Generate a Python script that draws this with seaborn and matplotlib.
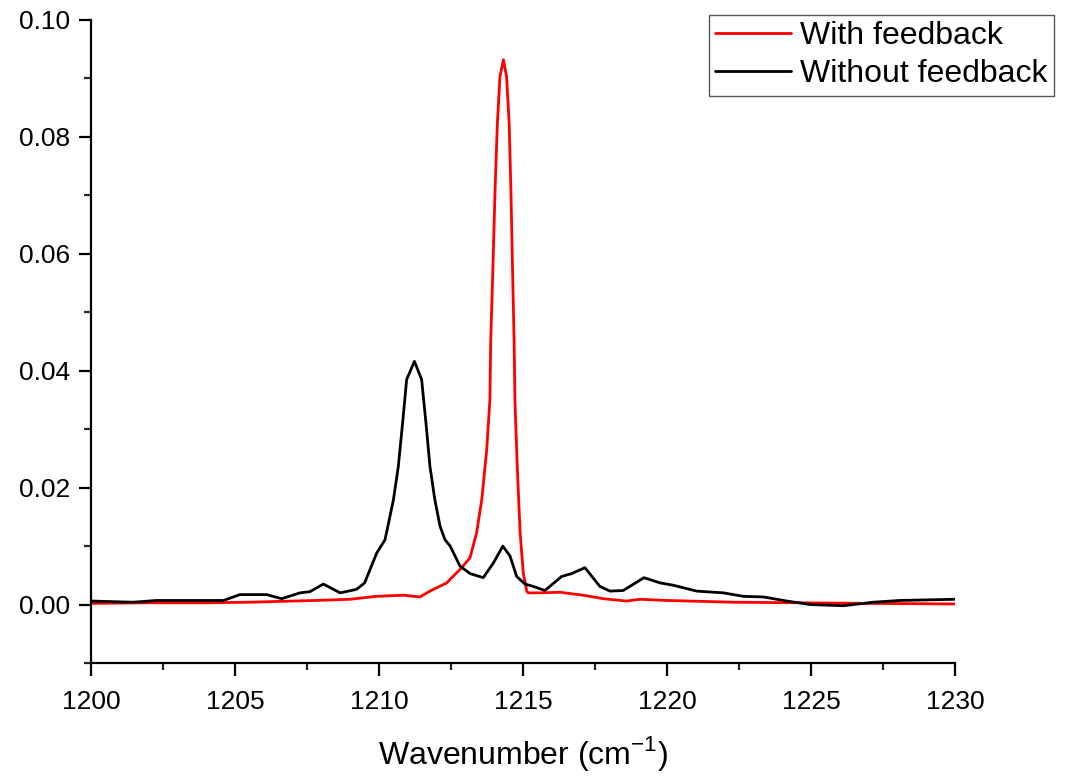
import numpy as np
import pandas as pd
import matplotlib
matplotlib.use("Agg")
import matplotlib.pyplot as plt
import seaborn as sns
from matplotlib.ticker import MultipleLocator

# ---- data ----
wn_with = [1200.0, 1202.0, 1204.0, 1205.5, 1207.0, 1207.8, 1209.0, 1209.9, 1210.85, 1211.42,
           1211.77, 1212.35, 1212.87, 1213.16, 1213.39, 1213.57, 1213.74, 1213.85, 1213.88,
           1213.95, 1214.03, 1214.11, 1214.2, 1214.32, 1214.43, 1214.52, 1214.58, 1214.64,
           1214.69, 1214.72, 1214.8, 1214.9, 1215.01, 1215.13, 1215.18, 1215.59, 1216.28,
           1217.09, 1217.79, 1218.6, 1219.06, 1219.99, 1222.3, 1224.6, 1227.0, 1230.0]
int_with = [0.0002, 0.0003, 0.0003, 0.0004, 0.0006, 0.0007, 0.0009, 0.0014, 0.0016, 0.0013,
            0.0023, 0.0037, 0.0063, 0.0080, 0.0123, 0.0180, 0.0265, 0.0350, 0.0453,
            0.0567, 0.0709, 0.0823, 0.0903, 0.0932, 0.0903, 0.0823, 0.0709, 0.0567,
            0.0453, 0.0350, 0.0236, 0.0123, 0.0054, 0.0023, 0.0020, 0.0020, 0.0021,
            0.0016, 0.0010, 0.0006, 0.0009, 0.0007, 0.0004, 0.0003, 0.0002, 0.0001]

wn_without = [1200.0, 1201.46, 1202.28, 1204.6, 1205.17, 1206.1, 1206.62, 1207.26, 1207.6,
              1208.07, 1208.65, 1209.22, 1209.5, 1209.92, 1210.21, 1210.5, 1210.67, 1210.82,
              1210.96, 1211.23, 1211.48, 1211.63, 1211.77, 1211.94, 1212.12, 1212.29,
              1212.47, 1212.81, 1213.16, 1213.62, 1213.97, 1214.3, 1214.55, 1214.78,
              1215.07, 1215.36, 1215.76, 1216.34, 1216.69, 1217.15, 1217.67, 1218.02,
              1218.48, 1219.2, 1219.76, 1220.22, 1221.03, 1221.96, 1222.65, 1223.35,
              1224.16, 1224.97, 1226.12, 1227.16, 1228.09, 1230.0]
int_without = [0.0006, 0.0004, 0.0007, 0.0007, 0.0017, 0.0017, 0.0010, 0.0020, 0.0022,
               0.0035, 0.0020, 0.0026, 0.0037, 0.0088, 0.0111, 0.0179, 0.0236, 0.0311,
               0.0385, 0.0416, 0.0385, 0.0311, 0.0236, 0.0179, 0.0134, 0.0111,
               0.0100, 0.0066, 0.0053, 0.0046, 0.0071, 0.0100, 0.0083, 0.0048,
               0.0035, 0.0031, 0.0024, 0.0048, 0.0053, 0.0063, 0.0031, 0.0023,
               0.0024, 0.0046, 0.0037, 0.0033, 0.0023, 0.0020, 0.0014, 0.0013,
               0.0006, 0.0000, -0.0002, 0.0004, 0.0007, 0.0009]

series_names = ["With feedback", "Without feedback"]
series_colors = ["#ff0000", "#000000"]
x_ticks = [1200, 1205, 1210, 1215, 1220, 1225, 1230]
y_ticks = [0.00, 0.02, 0.04, 0.06, 0.08, 0.10]

df = pd.concat([
    pd.DataFrame({"wn": wn_with, "val": int_with, "series": series_names[0]}),
    pd.DataFrame({"wn": wn_without, "val": int_without, "series": series_names[1]}),
], ignore_index=True)

sns.set_style("ticks")
plt.rcParams['font.family'] = ['Liberation Sans', 'DejaVu Sans']
plt.rcParams['mathtext.fontset'] = 'custom'
plt.rcParams['mathtext.rm'] = 'Liberation Sans'
plt.rcParams['text.color'] = 'black'
plt.rcParams['axes.labelcolor'] = 'black'

fig = plt.figure(figsize=(10.67, 7.77), dpi=100)
ax = fig.add_axes([91/1067, 1 - 663/777, (955 - 91)/1067, (663 - 20)/777])

sns.lineplot(data=df, x="wn", y="val", hue="series", hue_order=series_names,
             palette=dict(zip(series_names, series_colors)), linewidth=2.0,
             sort=True, estimator=None, ax=ax)

ax.set_xlim(1200, 1230)
ax.set_ylim(-0.01, 0.10)
ax.set_xticks(x_ticks)
ax.set_yticks(y_ticks)
ax.set_xticklabels([str(t) for t in x_ticks])
ax.set_yticklabels([f"{t:.2f}" for t in y_ticks])
ax.xaxis.set_minor_locator(MultipleLocator(2.5))
ax.yaxis.set_minor_locator(MultipleLocator(0.01))
ax.tick_params(which="major", direction="out", length=9, width=1.6, labelsize=19,
               colors="black", pad=6)
ax.tick_params(axis="x", which="major", pad=10.5)
ax.tick_params(which="minor", direction="out", length=5, width=1.6)
for s in ["left", "bottom"]:
    ax.spines[s].set_linewidth(1.6)
    ax.spines[s].set_color("black")
for s in ["top", "right"]:
    ax.spines[s].set_visible(False)

ax.set_xlabel("Wavenumber (cm$^{\\mathregular{-1}}$)", fontsize=23, labelpad=14)
ax.set_ylabel("")

leg = ax.legend(loc="upper right", bbox_to_anchor=(1054/1067, 1 - 15/777),
                bbox_transform=fig.transFigure, fontsize=23, frameon=True,
                fancybox=False, framealpha=1, edgecolor="#555555",
                handlelength=2.35, handletextpad=0.3, borderpad=0.2,
                labelspacing=0.25, borderaxespad=0)
leg.get_frame().set_linewidth(1.0)
for line in leg.get_lines():
    line.set_linewidth(2.0)

fig.savefig("out.png", dpi=100)
